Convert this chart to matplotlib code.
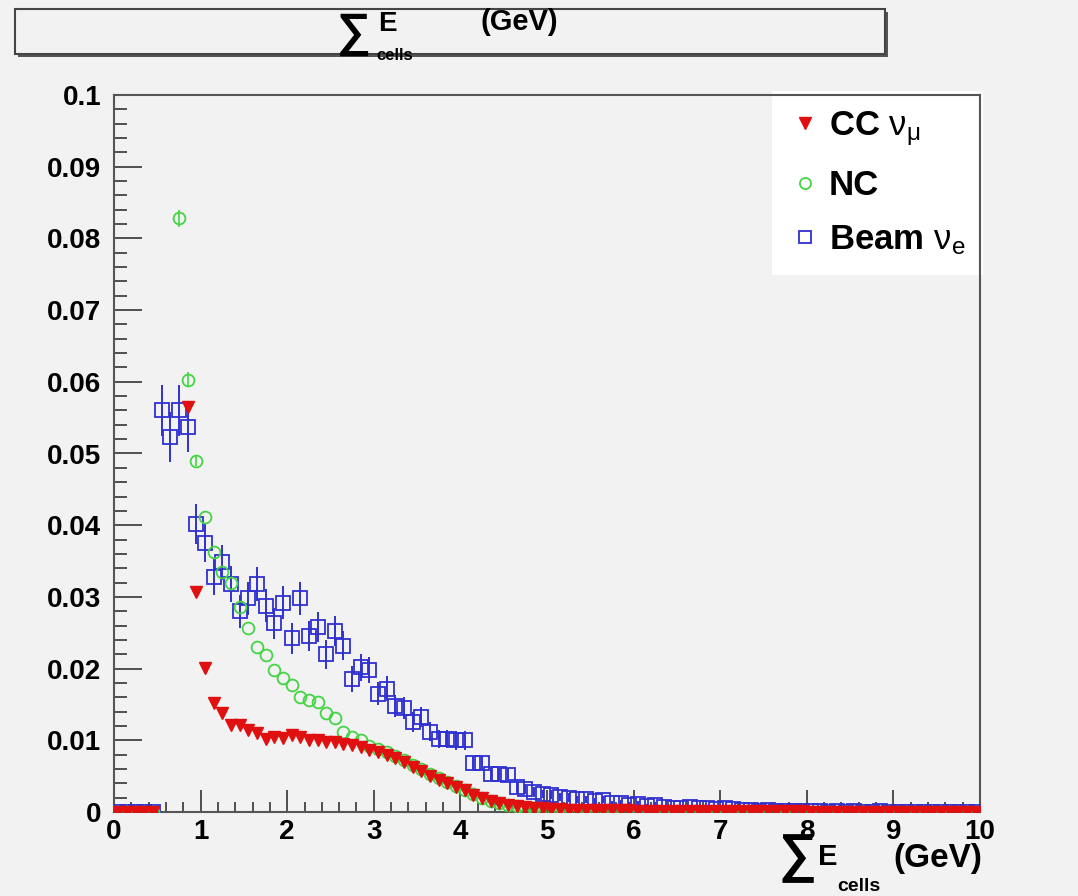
import numpy as np
import matplotlib.pyplot as plt
from matplotlib.patches import Rectangle
from matplotlib.lines import Line2D

# 100 bins of 0.1 GeV
bin_centers = np.arange(100) * 0.1 + 0.05
nan = np.nan

cc_numu = [0, 0, 0, 0, 0, nan, nan, nan, 0.0565, 0.0307,
           0.0201, 0.0152, 0.0138, 0.0122, 0.0121, 0.0115, 0.0110, 0.0102, 0.0105, 0.0103,
           0.0108, 0.0104, 0.0100, 0.0100, 0.0098, 0.0097, 0.0095, 0.0093, 0.0090, 0.0086,
           0.0083, 0.0080, 0.0075, 0.0070, 0.0063, 0.0057, 0.0050, 0.0045, 0.0040, 0.0035,
           0.0030, 0.0024, 0.0019, 0.0015, 0.0012, 0.0010, 0.0008, 0.0007, 0.0006, 0.0005,
           0.0004, 0.0004, 0.0003, 0.0003, 0.0003, 0.0003, 0.0003, 0.0003, 0.0003, 0.0003,
           0.0002, 0.0002, 0.0002, 0.0002, 0.0002, 0.0002, 0.0002, 0.0002, 0.0002, 0.0002,
           0.0001, 0.0001, 0.0001, 0.0001, 0.0001, 0.0001, 0.0001, 0.0001, 0.0001, 0.0001,
           0, 0, 0, 0, 0, 0, 0, 0, 0, 0,
           0, 0, 0, 0, 0, 0, 0, 0, 0, 0]

nc = [0, 0, 0, 0, 0, nan, nan, 0.0828, 0.0603, 0.0490,
      0.0411, 0.0363, 0.0335, 0.0320, 0.0286, 0.0257, 0.0230, 0.0219, 0.0198, 0.0187,
      0.0177, 0.0160, 0.0156, 0.0153, 0.0138, 0.0131, 0.0112, 0.0105, 0.0100, 0.0092,
      0.0088, 0.0083, 0.0078, 0.0072, 0.0066, 0.0060, 0.0053, 0.0047, 0.0042, 0.0036,
      0.0030, 0.0025, 0.0020, 0.0016, 0.0013, 0.0010, 0.0008, 0.0006, 0.0005, 0.0003,
      0.0002, 0.0002, 0.0001, 0.0001, 0.0001, 0.0001, 0.0001, 0.0001, 0.0001, 0.0001,
      0, 0, 0, 0, 0, 0, 0, 0, 0, 0,
      0, 0, 0, 0, 0, 0, 0, 0, 0, 0,
      0, 0, 0, 0, 0, 0, 0, 0, 0, 0,
      0, 0, 0, 0, 0, 0, 0, 0, 0, 0]
nc_err = [0, 0, 0, 0, 0, 0, 0, 0.0012, 0.0010, 0.0008,
          0, 0, 0, 0, 0, 0, 0, 0, 0, 0,
          0, 0, 0, 0, 0, 0, 0, 0, 0, 0,
          0, 0, 0, 0, 0, 0, 0, 0, 0, 0,
          0, 0, 0, 0, 0, 0, 0, 0, 0, 0,
          0, 0, 0, 0, 0, 0, 0, 0, 0, 0,
          0, 0, 0, 0, 0, 0, 0, 0, 0, 0,
          0, 0, 0, 0, 0, 0, 0, 0, 0, 0,
          0, 0, 0, 0, 0, 0, 0, 0, 0, 0,
          0, 0, 0, 0, 0, 0, 0, 0, 0, 0]

beam_nue = [0, 0, 0, 0, 0, 0.0560, 0.0523, 0.0560, 0.0537, 0.0402,
            0.0375, 0.0328, 0.0348, 0.0318, 0.0280, 0.0298, 0.0318, 0.0288, 0.0263, 0.0292,
            0.0242, 0.0298, 0.0245, 0.0258, 0.0220, 0.0252, 0.0232, 0.0185, 0.0202, 0.0198,
            0.0165, 0.0172, 0.0148, 0.0145, 0.0125, 0.0132, 0.0112, 0.0102, 0.0102, 0.0100,
            0.0100, 0.0068, 0.0068, 0.0053, 0.0053, 0.0052, 0.0035, 0.0032, 0.0028, 0.0025,
            0.0024, 0.0021, 0.0020, 0.0018, 0.0018, 0.0015, 0.0017, 0.0012, 0.0013, 0.0010,
            0.0011, 0.0008, 0.0010, 0.0007, 0.0006, 0.0005, 0.0007, 0.0005, 0.0006, 0.0004,
            0.0005, 0.0004, 0.0003, 0.0003, 0.0002, 0.0003, 0.0002, 0.0002, 0.0001, 0.0002,
            0.0001, 0.0001, 0, 0.0001, 0, 0.0001, 0, 0, 0.0001, 0,
            0, 0, 0, 0, 0, 0, 0, 0, 0, 0]
beam_nue_err = [0, 0, 0, 0, 0, 0.0035, 0.0035, 0.0035, 0.0035, 0.0028,
                0.0027, 0.0025, 0.0025, 0.0025, 0.0023, 0.0023, 0.0024, 0.0023, 0.0022, 0.0023,
                0.0021, 0.0023, 0.0021, 0.0021, 0.0020, 0.0021, 0.0020, 0.0018, 0.0019, 0.0018,
                0.0016, 0.0017, 0.0015, 0.0015, 0.0014, 0.0014, 0.0013, 0.0013, 0.0013, 0.0013,
                0.0013, 0.0010, 0.0010, 0.0009, 0.0009, 0.0009, 0.0008, 0.0007, 0.0007, 0.0006,
                0.0006, 0.0006, 0.0006, 0.0005, 0.0005, 0.0005, 0.0005, 0.0004, 0.0004, 0.0004,
                0.0004, 0.0003, 0.0004, 0.0003, 0.0003, 0.0003, 0.0003, 0.0003, 0.0003, 0.0002,
                0.0003, 0.0002, 0.0002, 0.0002, 0.0002, 0.0002, 0.0002, 0.0002, 0.0001, 0.0002,
                0.0001, 0.0001, 0, 0.0001, 0, 0.0001, 0, 0, 0.0001, 0,
                0, 0, 0, 0, 0, 0, 0, 0, 0, 0]

y_ticks = [0, 0.01, 0.02, 0.03, 0.04, 0.05, 0.06, 0.07, 0.08, 0.09, 0.1]
y_tick_labels = ['0', '0.01', '0.02', '0.03', '0.04', '0.05', '0.06', '0.07', '0.08', '0.09', '0.1']
x_ticks = [0, 1, 2, 3, 4, 5, 6, 7, 8, 9, 10]

RED = '#e01010'
GREEN = '#44d444'
BLUE = '#3030d0'
BG = '#f2f2f2'
FONT = ['Liberation Sans', 'DejaVu Sans']
plt.rcParams['mathtext.fontset'] = 'custom'
plt.rcParams['mathtext.rm'] = 'Liberation Sans'

W, H = 1078, 896
fig = plt.figure(figsize=(W / 100, H / 100), dpi=100, facecolor=BG)
ax = fig.add_axes([114 / W, 1 - 812 / H, (980 - 114) / W, (812 - 95) / H], facecolor=BG)


def px(x, y):
    return x / W, 1 - y / H


ax.errorbar(bin_centers, beam_nue, yerr=beam_nue_err, fmt='s', ms=10, mfc='none',
            mec=BLUE, mew=1.3, ecolor=BLUE, elinewidth=1.4, capsize=0, zorder=3)
ax.errorbar(bin_centers, nc, yerr=nc_err, fmt='o', ms=8.5, mfc='none',
            mec=GREEN, mew=1.3, ecolor=GREEN, elinewidth=1.2, capsize=0, zorder=4)
ax.plot(bin_centers, cc_numu, 'v', ms=8, color=RED, mec=RED, zorder=5)

ax.set_xlim(0, 10)
ax.set_ylim(0, 0.1)
ax.set_xticks(x_ticks)
ax.set_xticklabels([str(t) for t in x_ticks])
ax.set_yticks(y_ticks)
ax.set_yticklabels(y_tick_labels)
ax.set_xticks(np.arange(0, 10.01, 0.2), minor=True)
ax.set_yticks(np.arange(0, 0.1001, 0.002), minor=True)
ax.tick_params(axis='y', which='major', direction='in', length=20, width=1.3,
               color='#444', labelsize=20, pad=9)
ax.tick_params(axis='y', which='minor', direction='in', length=9, width=1.3, color='#444')
ax.tick_params(axis='x', which='major', direction='in', length=16, width=1.3,
               color='#444', labelsize=20, pad=5)
ax.tick_params(axis='x', which='minor', direction='in', length=7, width=1.3, color='#444')
for lab in ax.get_xticklabels() + ax.get_yticklabels():
    lab.set_fontweight('bold')
    lab.set_family(FONT)
for s in ax.spines.values():
    s.set_color('#555')
    s.set_linewidth(1.5)

# legend with marker-only handles, like ROOT's "p" option
handles = [Line2D([], [], ls='none', marker='v', ms=8, color=RED),
           Line2D([], [], ls='none', marker='o', ms=8, mfc='none', mec=GREEN, mew=1.3),
           Line2D([], [], ls='none', marker='s', ms=8, mfc='none', mec=BLUE, mew=1.3)]
labels = [r'CC $\mathrm{\nu_{\mu}}$', 'NC', r'Beam $\mathrm{\nu_{e}}$']
leg = ax.legend(handles, labels, loc='upper right',
                bbox_to_anchor=(1.003, 1.005), frameon=True,
                fancybox=False, facecolor='white', edgecolor='white', framealpha=1,
                prop={'family': FONT, 'weight': 'bold', 'size': 25},
                handletextpad=0.25, handlelength=0.9, labelspacing=0.62,
                borderpad=0.5, borderaxespad=0)
leg.get_frame().set_linewidth(0)
leg.set_zorder(2)

# title box with shadow
fig.patches.append(Rectangle(px(18, 57), (888 - 18) / W, 45 / H, transform=fig.transFigure,
                             facecolor='#555', edgecolor='none', zorder=0))
fig.patches.append(Rectangle(px(15, 54), (885 - 15) / W, 45 / H, transform=fig.transFigure,
                             facecolor=BG, edgecolor='#444', linewidth=1.5, zorder=1))

# title: sum symbol with E raised and "cells" lowered, ROOT latex style
fig.text(*px(354, 34), '\u2211', fontsize=34, family=FONT, weight='bold',
         ha='center', va='center')
fig.text(*px(378, 24), 'E', fontsize=20, family=FONT, weight='bold', ha='left', va='center')
fig.text(*px(376, 56), 'cells', fontsize=12, family=FONT, weight='bold', ha='left', va='center')
fig.text(*px(480, 22), '(GeV)', fontsize=21, family=FONT, weight='bold',
         ha='left', va='center')

# x axis title at lower right
fig.text(*px(797, 858), '\u2211', fontsize=38, family=FONT, weight='bold',
         ha='center', va='center')
fig.text(*px(818, 857), 'E', fontsize=21, family=FONT, weight='bold', ha='left', va='center')
fig.text(*px(837, 886), 'cells', fontsize=14, family=FONT, weight='bold', ha='left', va='center')
fig.text(*px(893, 858), '(GeV)', fontsize=24, family=FONT, weight='bold',
         ha='left', va='center')

fig.savefig('out.png', dpi=100, facecolor=BG)
